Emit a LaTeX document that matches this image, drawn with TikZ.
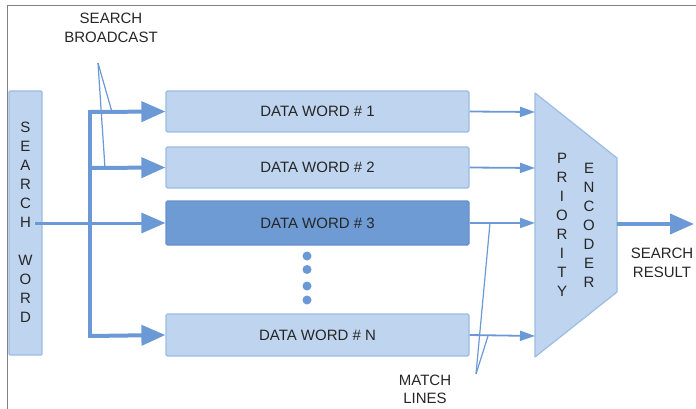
\documentclass[tikz,border=0pt]{standalone}
\usepackage{fontspec}
\setmainfont{Liberation Sans}
\usetikzlibrary{arrows.meta}
\definecolor{boxfill}{HTML}{BFD4EE}
\definecolor{boxline}{HTML}{9BBCE4}
\definecolor{darkfill}{HTML}{6E9BD3}
\definecolor{darkline}{HTML}{6690CC}
\definecolor{wire}{HTML}{6B99D5}
\definecolor{txt}{HTML}{262626}
\definecolor{framec}{HTML}{808080}
\begin{document}
\begin{tikzpicture}[x=1pt,y=-1pt,
  txtfont/.style={font=\fontsize{15}{19}\selectfont, text=txt},
  wordbox/.style={draw=boxline, fill=boxfill, line width=1.2pt, rounded corners=1.5pt,
    inner sep=0pt, minimum width=303pt, minimum height=41pt, txtfont},
  hotbox/.style={wordbox, draw=darkline, fill=darkfill, minimum height=44pt},
  vlabel/.style={txtfont, align=center, inner sep=0pt},
  label2/.style={font=\fontsize{15}{19}\selectfont, text=txt, align=center, inner sep=0pt},
  busline/.style={draw=wire, line width=4pt, line cap=rect},
  bigarrow/.style={draw=wire, line width=4pt, -{Triangle[length=24pt,width=20pt]}},
  inarrow/.style={draw=wire, line width=3pt, -{Triangle[length=24pt,width=20pt]}},
  matcharrow/.style={draw=wire, line width=1.8pt, -{Triangle[length=15pt,width=10pt]}},
  pointer/.style={draw=wire, line width=1.2pt},
  dot/.style={circle, fill=wire, inner sep=0pt, minimum size=9pt}
]
\useasboundingbox (0,0) rectangle (696,409);
% frame
\draw[framec, line width=1.8pt] (7.5,409) -- (7.5,5.5) -- (696,5.5);

% search word
\node[draw=boxline, fill=boxfill, line width=1.2pt, rounded corners=1pt,
      minimum width=33pt, minimum height=264pt, inner sep=0pt] (sw) at (25.5,223) {};
\node[vlabel, font=\fontsize{15}{19}\selectfont] (swt) at (25.5,222.5) {S\\E\\A\\R\\C\\H\\ \\W\\O\\R\\D};

% data words
\node[wordbox] (dw1) at (317.5,111.5) {DATA WORD \# 1};
\node[wordbox] (dw2) at (317.5,167.5) {DATA WORD \# 2};
\node[hotbox]  (dw3) at (317.5,223) {DATA WORD \# 3};
\node[wordbox, minimum height=42pt] (dwn) at (317.5,335) {DATA WORD \# N};

% dots
\node[dot] (d1) at (307,256) {};
\node[dot] (d2) at (307,269.5) {};
\node[dot] (d3) at (307,286) {};
\node[dot] (d4) at (307,300) {};

% priority encoder
\coordinate (etl) at (535,93);
\coordinate (etr) at (617,158);
\coordinate (ebr) at (617,292);
\coordinate (ebl) at (535,357);
\draw[draw=boxline, fill=boxfill, line width=1.2pt, line join=round] (etl) -- (etr) -- (ebr) -- (ebl) -- cycle;
\node[vlabel] (pri) at (562,225) {P\\R\\I\\O\\R\\I\\T\\Y};
\node[vlabel] (enc) at (589,225) {E\\N\\C\\O\\D\\E\\R};
\coordinate (e1) at (535,112);
\coordinate (e2) at (535,168);
\coordinate (e3) at (535,223);
\coordinate (e4) at (535,336);
\coordinate (eo) at (617,224);
\coordinate (out) at (694,224);

% broadcast bus
\coordinate (b1) at (90,112);
\coordinate (b2) at (90,168);
\coordinate (bn) at (90,336);
\coordinate (swo) at (35,223);
\draw[busline] (b1) -- (bn);
\draw[bigarrow] (b1) -- (dw1.west);
\draw[bigarrow] (b2) -- (dw2.west);
\draw[bigarrow] (bn) -- (dwn.west);
\draw[inarrow] (swo) -- (dw3.west);

% match lines
\draw[matcharrow] (dw1.east) -- (e1);
\draw[matcharrow] (dw2.east) -- (e2);
\draw[matcharrow] (dw3.east) -- (e3);
\draw[matcharrow] (dwn.east) -- (e4);

% output
\draw[bigarrow] (eo) -- (out);
\node[label2] (sr) at (662,263) {SEARCH\\RESULT};

% search broadcast label
\node[label2] (sb) at (111,27.5) {SEARCH\\BROADCAST};
\coordinate (bc) at (98,63);
\coordinate (bc1) at (112,112);
\coordinate (bc2) at (105,168);
\draw[pointer] (bc) -- (bc1);
\draw[pointer] (bc) -- (bc2);

% match lines label
\node[label2, font=\fontsize{15}{18}\selectfont] (ml) at (425,389) {MATCH\\LINES};
\coordinate (mc) at (476,374);
\coordinate (mc1) at (490,223);
\coordinate (mc2) at (488,336);
\draw[pointer] (mc) -- (mc1);
\draw[pointer] (mc) -- (mc2);
\end{tikzpicture}
\end{document}
